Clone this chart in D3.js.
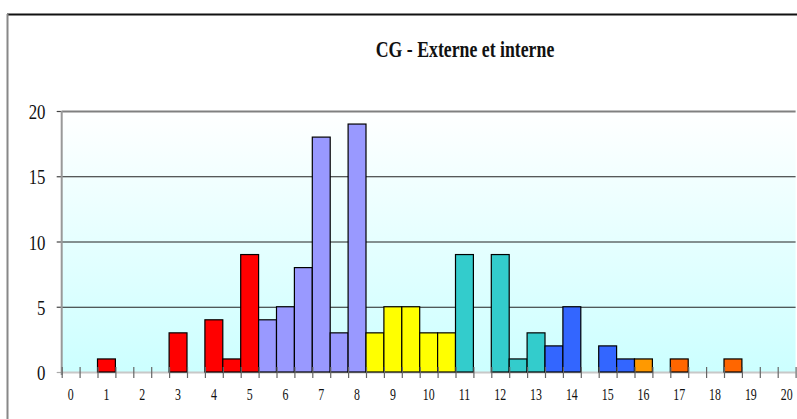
<!DOCTYPE html>
<html><head><meta charset="utf-8">
<script src="https://cdn.jsdelivr.net/npm/d3@7"></script>
<style>body{margin:0;background:#fff;overflow:hidden}</style>
</head><body>
<svg id="c" width="797" height="419"></svg>
<script>
const title = "CG - Externe et interne";
const categories = ["0","0.5","1","1.5","2","2.5","3","3.5","4","4.5","5","5.5","6","6.5","7","7.5","8","8.5","9","9.5","10","10.5","11","11.5","12","12.5","13","13.5","14","14.5","15","15.5","16","16.5","17","17.5","18","18.5","19","19.5","20"];
const values = [0,0,1,0,0,0,3,0,4,1,9,4,5,8,18,3,19,3,5,5,3,3,9,0,9,1,3,2,5,0,2,1,1,0,1,0,0,1,0,0,0];
// groups of consecutive categories (first and last category of each group)
const groups = [
  {from:"0",   to:"5"},
  {from:"5.5", to:"8"},
  {from:"8.5", to:"10.5"},
  {from:"11",  to:"13"},
  {from:"13.5",to:"15.5"},
  {from:"16",  to:"16"},
  {from:"16.5",to:"20"}
];
const groupColors = ["#FF0000","#9999FF","#FFFF00","#33CCCC","#3366FF","#FF9900","#FF6600"];
const xTickLabels = ["0","1","2","3","4","5","6","7","8","9","10","11","12","13","14","15","16","17","18","19","20"];
const yTicks = [0,5,10,15,20];

const svg = d3.select("#c");
const L = 61.7, R = 795.6, T = 111, B = 372;

const x = d3.scaleBand().domain(categories).range([L, R]).padding(0);
const xb = d3.scaleLinear().domain([0, categories.length]).range([L, R]);
const y = d3.scaleLinear().domain([0, 20]).range([B, T]);

function groupOf(cat){
  const i = categories.indexOf(cat);
  return groups.findIndex(g => i >= categories.indexOf(g.from) && i <= categories.indexOf(g.to));
}

// gradient
const defs = svg.append("defs");
const grad = defs.append("linearGradient").attr("id","bg").attr("x1",0).attr("y1",0).attr("x2",0).attr("y2",1);
grad.append("stop").attr("offset","0%").attr("stop-color","#ffffff");
grad.append("stop").attr("offset","100%").attr("stop-color","#ccffff");

// outer border
svg.append("line").attr("x1",7).attr("x2",797).attr("y1",14.5).attr("y2",14.5).attr("stroke","#111").attr("stroke-width",2);
svg.append("line").attr("x1",7.5).attr("x2",7.5).attr("y1",14).attr("y2",419).attr("stroke","#888").attr("stroke-width",2);

// plot area
svg.append("rect").attr("x",L).attr("y",T).attr("width",R-L).attr("height",B-T).attr("fill","url(#bg)");

// gridlines + y ticks
const gy = svg.append("g").attr("transform",`translate(${L},0)`)
  .call(d3.axisLeft(y).tickValues(yTicks).tickSize(-(R-L)).tickSizeOuter(0).tickFormat(""));
gy.select(".domain").remove();
gy.selectAll(".tick line")
  .attr("x1", 0).attr("x2", R-L)
  .attr("stroke", d => d===20 ? "#808080" : (d===0 ? "#c8c8c8" : "#222"))
  .attr("stroke-width", d => (d===20||d===0) ? 2 : 1.2);
// short outside ticks
const gy2 = svg.append("g").attr("transform",`translate(${L},0)`)
  .call(d3.axisLeft(y).tickValues(yTicks).tickSize(5).tickSizeOuter(0).tickFormat(""));
gy2.select(".domain").remove();
gy2.selectAll(".tick line").attr("stroke", d => d===0 ? "#aaa" : "#444").attr("stroke-width",1.2);

// y labels
svg.append("g").selectAll("text").data(yTicks).join("text")
  .attr("transform", d => `translate(45.5,${y(d)+8}) scale(0.8,1)`)
  .attr("text-anchor","end")
  .attr("font-family","Liberation Serif, Times New Roman, serif")
  .attr("font-size",21).attr("fill","#111")
  .text(d => d);

// left axis line
svg.append("line").attr("x1",L).attr("x2",L).attr("y1",T).attr("y2",B+3).attr("stroke","#999").attr("stroke-width",2);

// bars
svg.append("g").selectAll("rect").data(categories.map((c,i)=>({c, v:values[i]})).filter(d=>d.v>0)).join("rect")
  .attr("x", d => x(d.c)).attr("width", x.bandwidth())
  .attr("y", d => y(d.v)).attr("height", d => y(0)-y(d.v))
  .attr("fill", d => groupColors[groupOf(d.c)])
  .attr("stroke","#000").attr("stroke-width",1.2);

// x tick marks at category boundaries (crossing)
const gx = svg.append("g").attr("transform",`translate(0,${B-5})`)
  .call(d3.axisBottom(xb).tickValues(d3.range(categories.length+1)).tickSize(11).tickSizeOuter(0).tickFormat(""));
gx.select(".domain").remove();
gx.selectAll(".tick line").attr("stroke","#666").attr("stroke-width",1.2);

// x labels
svg.append("g").selectAll("text").data(xTickLabels).join("text")
  .attr("transform", d => `translate(${x(d)+x.bandwidth()/2},400) scale(0.7,1)`)
  .attr("text-anchor","middle")
  .attr("font-family","Liberation Serif, Times New Roman, serif")
  .attr("font-size",17).attr("fill","#111")
  .text(d => d);

// title
svg.append("text")
  .attr("transform","translate(465,57) scale(0.74,1)")
  .attr("text-anchor","middle")
  .attr("font-family","Liberation Serif, Times New Roman, serif")
  .attr("font-weight","bold").attr("font-size",24).attr("fill","#111")
  .text(title);
</script>
</body></html>
